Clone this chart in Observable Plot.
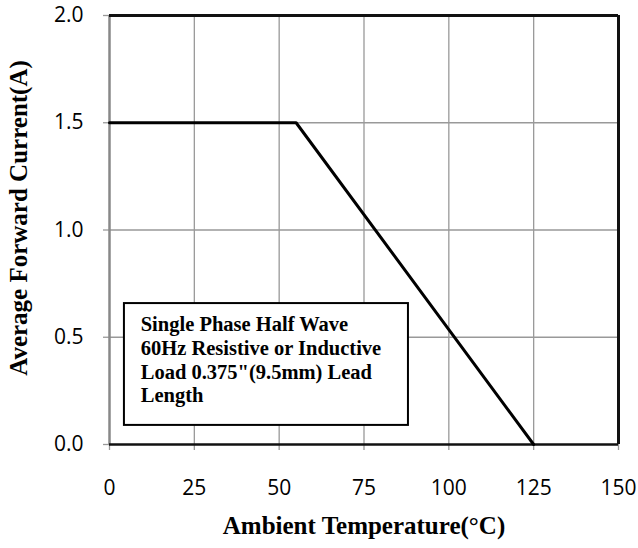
<!DOCTYPE html>
<html>
<head>
<meta charset="utf-8">
<script src="https://cdn.jsdelivr.net/npm/d3@7"></script>
<script src="https://cdn.jsdelivr.net/npm/@observablehq/plot@0.6"></script>
<style>
  body { margin: 0; background: #fff; }
</style>
</head>
<body>
<div id="chart"></div>
<script>
const temperature = [0, 55, 125];
const current = [1.5, 1.5, 0];
const xTicks = [0, 25, 50, 75, 100, 125, 150];
const yTicks = [0, 0.5, 1.0, 1.5, 2.0];
const xTitle = "Ambient Temperature(°C)";
const yTitle = "Average Forward Current(A)";
const noteLines = ["Single Phase Half Wave", "60Hz Resistive or Inductive", "Load 0.375\"(9.5mm) Lead", "Length"];
const noteBox = [{x1: 4.4, x2: 88.1, y1: 0.089, y2: 0.657}];
const noteAnchor = [{x: 9.2, y: 0.605}];

const data = temperature.map((t, i) => ({t, c: current[i]}));

const serif = "'Liberation Serif', 'Times New Roman', serif";
const sans = "'Open Sans', 'Noto Sans', sans-serif";

const chart = Plot.plot({
  width: 638,
  height: 548,
  marginLeft: 109,
  marginRight: 20,
  marginTop: 15,
  marginBottom: 104,
  x: {domain: [0, 150]},
  y: {domain: [0, 2]},
  style: {background: "#fff"},
  marks: [
    Plot.gridX(xTicks.slice(1, -1), {stroke: "#999", strokeOpacity: 1, strokeWidth: 1.3}),
    Plot.gridY(yTicks.slice(1, -1), {stroke: "#999", strokeOpacity: 1, strokeWidth: 1.3}),
    Plot.axisX(xTicks, {label: null, tickSize: 6, tickPadding: 30, stroke: "#999", strokeWidth: 1.3, fontSize: 20, fontFamily: sans, fill: "#000", tickFormat: d => String(d)}),
    Plot.axisY(yTicks, {label: null, tickSize: 6, tickPadding: 20, stroke: "#999", strokeWidth: 1.3, fontSize: 20, fontFamily: sans, fill: "#000", tickFormat: d => d.toFixed(1)}),
    Plot.ruleX([0], {stroke: "#888", strokeWidth: 2.5}),
    Plot.ruleY([2], {stroke: "#111", strokeWidth: 3}),
    Plot.ruleY([0], {stroke: "#111", strokeWidth: 2.5}),
    Plot.ruleX([150], {stroke: "#111", strokeWidth: 3}),
    Plot.line(data, {x: "t", y: "c", stroke: "#000", strokeWidth: 3}),
    Plot.rect(noteBox, {x1: "x1", x2: "x2", y1: "y1", y2: "y2", fill: "#fff", stroke: "#000", strokeWidth: 2}),
    Plot.text(noteAnchor, {x: "x", y: "y", text: () => noteLines.join("\n"), textAnchor: "start", lineAnchor: "top", lineHeight: 1.15, fontSize: 20.5, fontWeight: "bold", fontFamily: serif, fill: "#000"}),
    Plot.text([xTitle], {frameAnchor: "bottom", dy: 89, fontSize: 25, fontWeight: "bold", fontFamily: serif, fill: "#000"}),
    Plot.text([yTitle], {frameAnchor: "left", textAnchor: "middle", dx: -91, dy: -12, rotate: -90, fontSize: 25, fontWeight: "bold", fontFamily: serif, fill: "#000"})
  ]
});
const tickLabels = new Set([...xTicks.map(String), ...yTicks.map(d => d.toFixed(1))]);
d3.select(chart).selectAll("text")
  .filter(function() { return tickLabels.has(this.textContent.trim()); })
  .style("font-size", "21px")
  .style("font-family", sans);
document.getElementById("chart").appendChild(chart);
</script>
</body>
</html>
